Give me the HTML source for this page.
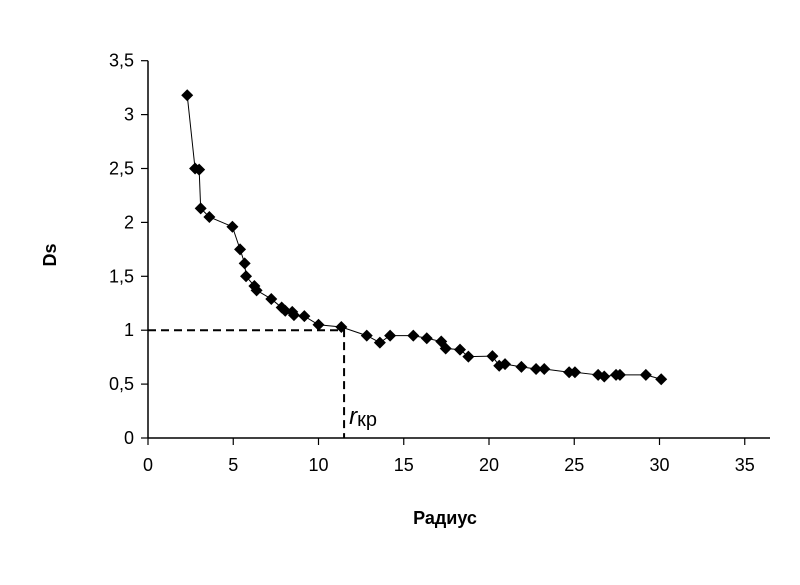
<!DOCTYPE html>
<html><head><meta charset="utf-8"><style>
body{margin:0;background:#fff;font-family:"Liberation Sans",Arial,sans-serif}
</style></head><body>
<svg id="chart" width="800" height="580" viewBox="0 0 800 580" xmlns="http://www.w3.org/2000/svg" font-family="Liberation Sans, Arial, sans-serif">
<g id="axes"></g><g id="marks"></g>
</svg>
<script>
const radius=[2.3,2.76,3.0,3.09,3.6,4.95,5.4,5.67,5.75,6.24,6.37,7.23,7.84,8.05,8.46,8.56,9.17,10.0,11.34,12.83,13.6,14.2,15.56,16.35,17.2,17.46,18.3,18.79,20.2,20.6,20.94,21.9,22.76,23.24,24.7,25.04,26.4,26.76,27.45,27.68,29.2,30.1];
const dsValues=[3.18,2.50,2.49,2.13,2.05,1.96,1.75,1.62,1.50,1.41,1.37,1.29,1.21,1.18,1.17,1.14,1.13,1.05,1.03,0.95,0.885,0.95,0.95,0.925,0.895,0.83,0.82,0.755,0.76,0.67,0.685,0.66,0.64,0.64,0.61,0.61,0.585,0.57,0.585,0.585,0.585,0.545];
const xTicks=[0,5,10,15,20,25,30,35];
const yTicks=[0,0.5,1,1.5,2,2.5,3,3.5];
const xTickLabels=["0","5","10","15","20","25","30","35"];
const yTickLabels=["0","0,5","1","1,5","2","2,5","3","3,5"];
const rCrit=11.5, dsCrit=1;
const NS="http://www.w3.org/2000/svg";
const X=v=>148+v*17.05, Y=v=>438-v*107.8;
const axes=document.getElementById('axes'), marks=document.getElementById('marks');
function mk(tag,attrs,parent,txt){const e=document.createElementNS(NS,tag);for(const k in attrs)e.setAttribute(k,attrs[k]);if(txt!==undefined)e.textContent=txt;parent.appendChild(e);return e;}
let e;
e=mk('line',{x1:148,y1:Y(3.5),x2:148,y2:438,stroke:'#000','stroke-width':1.5},axes);


e=mk('line',{x1:148,y1:438,x2:770,y2:438,stroke:'#000','stroke-width':1.5},axes);


xTicks.forEach((t,i)=>{
 e=mk('line',{x1:X(t),y1:438,x2:X(t),y2:445,stroke:'#000','stroke-width':1.2},axes);
 
 
 e=mk('text',{x:X(t),y:471,'text-anchor':'middle','font-size':18},axes,xTickLabels[i]);
 
 
});
yTicks.forEach((t,i)=>{
 e=mk('line',{x1:141,y1:Y(t),x2:148,y2:Y(t),stroke:'#000','stroke-width':1.2},axes);
 
 
 e=mk('text',{x:134,y:Y(t)+6,'text-anchor':'end','font-size':18},axes,yTickLabels[i]);
 
 
});
e=mk('text',{x:0,y:0,'text-anchor':'middle','font-size':18,'font-weight':'bold',transform:'translate(56,255) rotate(-90)'},axes,'Ds');


e=mk('text',{x:445,y:524,'text-anchor':'middle','font-size':18,'font-weight':'bold'},axes,'Радиус');


e=mk('polyline',{points:`${X(0)},${Y(dsCrit)} ${X(rCrit)},${Y(dsCrit)} ${X(rCrit)},${438}`,fill:'none',stroke:'#000','stroke-width':2,'stroke-dasharray':'8,5'},axes);


const lab=mk('text',{x:X(rCrit)+5,y:424,'font-size':20},axes);


mk('tspan',{'font-style':'italic','font-size':24},lab,'r');
mk('tspan',{dy:2},lab,'кр');
e=mk('polyline',{points:radius.map((r,i)=>X(r)+','+Y(dsValues[i])).join(' '),fill:'none',stroke:'#000','stroke-width':1},marks);


radius.forEach((r,i)=>{
 const cx=X(r),cy=Y(dsValues[i]);
 e=mk('polygon',{points:`${cx},${cy-6} ${cx+6},${cy} ${cx},${cy+6} ${cx-6},${cy}`,fill:'#000'},marks);
 
 
});
</script>
</body></html>
